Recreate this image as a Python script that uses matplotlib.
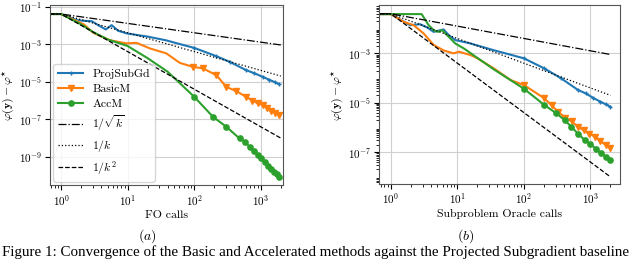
import numpy as np
import matplotlib
matplotlib.use("Agg")
import matplotlib.pyplot as plt

plt.rcParams['font.family'] = ['cmr10', 'DejaVu Serif']
plt.rcParams['mathtext.fontset'] = 'cm'
plt.rcParams['axes.formatter.use_mathtext'] = True

# values (log10 of phi(y) - phi*)
# panel (a): FO calls
blue_a_x = [0.68, 1, 1.7, 2.2, 2.9, 3.6, 4.7, 5.75, 7.2, 9.7, 20, 38, 61,
            100, 215, 340, 600, 800, 1070, 1350, 1650, 1900]
blue_a_log = [-1.4, -1.4, -1.72, -1.76, -1.78, -1.99, -2.22, -1.99, -2.29, -2.43, -2.6, -2.8, -3.0,
              -3.2, -3.64, -3.94, -4.38, -4.55, -4.74, -4.9, -5.03, -5.14]

orange_a_x = [0.68, 1, 2.2, 3.05, 5.4, 7.7, 9.7, 13.6, 21.6, 38, 61,
              96, 135, 215, 305, 430, 600, 750, 900, 1080, 1250, 1450, 1650, 1900]
orange_a_log = [-1.4, -1.4, -1.95, -2.4, -2.79, -2.9, -2.96, -2.93, -3.23, -3.49, -4.0,
                -4.21, -4.29, -4.65, -5.28, -5.5, -5.8, -6.0, -6.15, -6.24, -6.4, -6.55, -6.65, -6.78]

green_a_x = [0.68, 1, 2, 3, 5, 10, 20, 40,
             100, 192, 305, 480, 580, 680, 790, 900, 1000, 1150, 1300, 1450, 1600, 1750, 1900]
green_a_log = [-1.4, -1.4, -1.95, -2.35, -2.75, -3.1, -3.75, -4.47,
               -5.8, -6.87, -7.4, -8.02, -8.2, -8.46, -8.69, -8.89, -9.06, -9.28, -9.47, -9.64, -9.79, -9.93, -10.06]

# panel (b): subproblem oracle calls
blue_b_x = [0.68, 1, 1.95, 2.75, 3.5, 4.4, 6.2, 7.4, 9.3, 15.8, 35,
            100, 203, 363, 650, 850, 1100, 1400, 1700, 2000]
blue_b_log = [-1.41, -1.41, -1.86, -1.82, -1.95, -2.13, -2.03, -2.26, -2.46, -2.6, -2.87,
              -3.2, -3.61, -4.01, -4.48, -4.62, -4.8, -4.95, -5.06, -5.16]

orange_b_x = [0.68, 1, 1.55, 2.2, 3.1, 4.4, 6.2, 8.8, 10.5, 15.8, 20, 35, 63,
              100, 203, 260, 325, 420, 520, 650, 800, 950, 1170, 1400, 1700, 2000]
orange_b_log = [-1.41, -1.41, -1.72, -1.86, -2.19, -2.66, -2.88, -3.0, -2.93, -3.07, -3.2, -3.6, -4.08,
                -4.28, -4.82, -5.1, -5.36, -5.6, -5.75, -5.97, -6.12, -6.25, -6.37, -6.55, -6.7, -6.84]

green_b_x = [0.68, 1, 2.9, 3.7, 4.4, 5.1, 5.9, 7.8, 9.3, 12.5, 35,
             100, 203, 305, 410, 516, 650, 815, 1000, 1200, 1450, 1700, 2000]
green_b_log = [-1.41, -1.41, -1.41, -1.86, -2.06, -2.13, -2.06, -2.39, -2.6, -2.8, -3.64,
               -4.43, -5.09, -5.42, -5.7, -5.97, -6.25, -6.5, -6.68, -6.85, -7.05, -7.18, -7.31]

# reference rates (start and end points)
ref_x = [0.68, 1, 2000]
sqrt_ref = [0.04, 0.04, 9e-4]
k_ref = [0.04, 0.04, 2e-5]
k2_ref = [0.04, 0.04, 1e-8]

fig = plt.figure(figsize=(6.4, 2.6), dpi=100)
ax1 = fig.add_axes([0.078, 0.288, 0.364, 0.692])
ax2 = fig.add_axes([0.592, 0.292, 0.377, 0.688])

def draw(ax, bx, bl, ox, ol, gx, gl):
    mk = lambda xs: [i for i, v in enumerate(xs) if v >= 90]
    ax.plot(bx, 10.0 ** np.array(bl), color='#1f77b4', lw=1.5, marker='+', ms=3,
            markevery=mk(bx), label='ProjSubGd')
    ax.plot(ox, 10.0 ** np.array(ol), color='#ff7f0e', lw=1.5, marker='v', ms=3.8,
            markevery=mk(ox), label='BasicM')
    ax.plot(gx, 10.0 ** np.array(gl), color='#2ca02c', lw=1.5, marker='o', ms=3.8,
            markevery=mk(gx), label='AccM')
    ax.plot(ref_x, sqrt_ref, color='k', lw=0.9, ls='-.', label=r'$1/\sqrt{k}$')
    ax.plot(ref_x, k_ref, color='k', lw=0.9, ls=':', label=r'$1/k$')
    ax.plot(ref_x, k2_ref, color='k', lw=0.9, ls='--', label=r'$1/k^2$')
    ax.set_xscale('log')
    ax.set_yscale('log')
    ax.grid(True, color='#d0d0d0', lw=0.8)
    ax.tick_params(labelsize=8, pad=2)
    for s in ax.spines.values():
        s.set_color('#555555')
    ax.set_ylabel(r'$\varphi(\mathbf{y}) - \varphi^{\star}$', fontsize=8.5, labelpad=2)

draw(ax1, blue_a_x, blue_a_log, orange_a_x, orange_a_log, green_a_x, green_a_log)
draw(ax2, blue_b_x, blue_b_log, orange_b_x, orange_b_log, green_b_x, green_b_log)

ax1.set_xlim(0.68, 2150)
ax1.set_ylim(10 ** -10.5, 10 ** -0.93)
ax2.set_xlim(0.66, 2800)
ax2.set_ylim(10 ** -8.29, 10 ** -1.05)
ax1.set_yticks([1e-1, 1e-3, 1e-5, 1e-7, 1e-9])
ax2.set_yticks([1e-3, 1e-5, 1e-7])
ax1.set_xlabel('FO calls', fontsize=8.5, labelpad=2)
ax2.set_xlabel('Subproblem Oracle calls', fontsize=8.5, labelpad=2)

ax1.legend(loc='lower left', fontsize=8.5, borderaxespad=0.3, handlelength=2.1,
           labelspacing=0.4, framealpha=0.8)

fig.text(0.231, 0.09, r'$(a)$', ha='center', va='center', fontsize=10)
fig.text(0.727, 0.09, r'$(b)$', ha='center', va='center', fontsize=10)
fig.text(0.003, 0.032, 'Figure 1: Convergence of the Basic and Accelerated methods against the Projected Subgradient baseline',
         ha='left', va='center', fontsize=10.8, family='Liberation Serif')

fig.savefig('out.png', dpi=100)
